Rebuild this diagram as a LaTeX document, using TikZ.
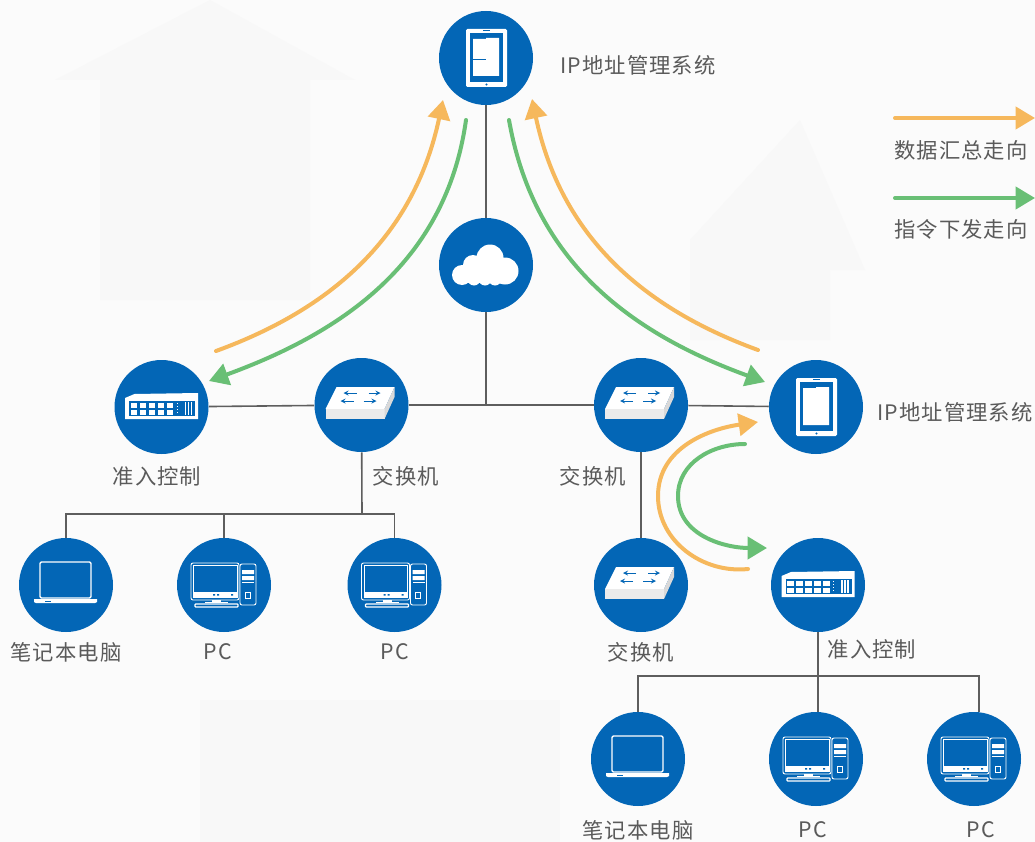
\documentclass[tikz,border=0pt]{standalone}
\usepackage{fontspec}
\setmainfont[LetterSpace=5]{Noto Sans CJK SC}
\usepackage{xcolor}
\usetikzlibrary{arrows.meta, positioning}
\definecolor{hubblue}{HTML}{0366B6}
\definecolor{linegray}{HTML}{5E5E5E}
\definecolor{datapath}{HTML}{F6B85C}
\definecolor{cmdpath}{HTML}{69BF75}
\definecolor{labelgray}{HTML}{5A5A5A}
\definecolor{backdrop}{HTML}{FBFBFB}
\definecolor{ghost}{HTML}{F8F8F8}
\tikzset{
    hub/.style={circle, fill=hubblue, minimum size=70.5pt, inner sep=0pt},
    label/.style={text=labelgray, font=\fontsize{16}{18}\selectfont, inner sep=0pt},
    link/.style={draw=linegray, line width=1.2pt},
    flow/.style={line width=3pt, line cap=round, -{Triangle[length=14.5pt, width=16.5pt]}},
    whiteout/.style={draw=white, line width=0.9pt, fill=hubblue},
    pics/tablet/.style={code={
        \fill[white, rounded corners=1pt] (-20,-29) rectangle (21,29);
        \fill[hubblue] (-16,-25) rectangle (17,24);
        \fill[white] (-13,-19) -- (0,-19) -- (0,-20) -- (13,-20) -- (13,18) -- (-13,18) -- cycle;
        \fill[hubblue] (0.5,26.5) circle (1.2);
        \fill[hubblue] (-3,-27.6) rectangle (4,-26.8);
    }},
    pics/screenrule/.style={code={
        \draw[hubblue, line width=0.6pt] (-13,1) -- (0,1);
    }},
    pics/cloud/.style={code={
        \fill[white] (-24,10) circle (10) (-13,0) circle (10) (4,-7) circle (13.5) (19,6) circle (13.5)
            (-12,14) circle (6.5) (-1,14) circle (6.5) (9,14) circle (6.5);
        \fill[white] (-24,4) rectangle (19,18);
    }},
    pics/switch/.style={code={
        \fill[white] (-25,-18) -- (33,-18) -- (23,4) -- (-36,4) -- cycle;
        \fill[white!92!black] (-36,4) rectangle (23,14);
        \fill[white!85!black] (33,-18) -- (33,-8) -- (23,14) -- (23,4) -- cycle;
        \draw[hubblue, line width=0.7pt, ->, >=stealth] (-5,-12) -- (-18,-12);
        \draw[hubblue, line width=0.7pt, ->, >=stealth] (7,-12) -- (19,-12);
        \draw[hubblue, line width=0.7pt, ->, >=stealth] (-8,-4) -- (-21,-4);
        \draw[hubblue, line width=0.7pt, ->, >=stealth] (2,-4) -- (15,-4);
    }},
    pics/gate/.style={code={
        \fill[white] (-36.5,-9) -- (-27,-13) -- (36.5,-14) -- (36.5,12) -- (-36.5,12) -- cycle;
        \fill[hubblue] (-32.5,-6) rectangle (33.5,9);
        \foreach \col in {0,...,4} {
            \fill[white] (-31+\col*9,-4) rectangle ++(6.5,5);
            \fill[white] (-31+\col*9,3) rectangle ++(6.5,5);
        }
        \foreach \row in {-4,-1,2,5} {
            \fill[white] (15,\row) rectangle ++(1.2,1.2);
        }
        \foreach \bar in {23,26,29} {
            \fill[white] (\bar,-5) rectangle ++(1.8,13);
        }
    }},
    pics/laptop/.style={code={
        \draw[whiteout, rounded corners=1pt, line width=1.1pt] (-26,-23) rectangle (25,13);
        \fill[white] (-32,14) -- (31,14) -- (31,17) -- (29,18) -- (-30,18) -- (-32,17) -- cycle;
        \fill[hubblue] (-21,15.5) rectangle (-15,16.3);
    }},
    pics/desktop/.style={code={
        \draw[whiteout, rounded corners=1.5pt, line width=0.7pt] (-33,-22) rectangle (15,15);
        \draw[whiteout, line width=0.7pt] (-30.5,-19.5) rectangle (13,7);
        \fill[white] (-31,7) rectangle (13.5,13);
        \fill[hubblue] (-11,9) rectangle (-9,10.5) (-7,9) rectangle (-5,10.5) (7,9) rectangle (9,10.5);
        \fill[white] (-12,15) rectangle (-3,17);
        \fill[white] (-19,16.5) rectangle (4,18);
        \draw[white, line width=0.9pt, rounded corners=0.5pt] (-29,19) rectangle (14,22);
        \draw[whiteout, rounded corners=1.5pt, line width=0.7pt] (16,-21) rectangle (32,20);
        \fill[white] (18,-15) rectangle (30,-11) (18,-9) rectangle (30,-5);
        \fill[white] (18,-3) rectangle (30,-2);
        \draw[white, line width=0.6pt] (21,7) rectangle (26,13);
    }}
}
\begin{document}
\begin{tikzpicture}[x=0.75pt, y=-0.75pt]
    \useasboundingbox (0,0) rectangle (1035,842);
    \fill[backdrop] (0,0) rectangle (1035,842);
    \fill[ghost] (55,80) -- (210,0) -- (355,80) -- (310,80) -- (310,300) -- (100,300) -- (100,80) -- cycle;
    \fill[ghost] (690,240) -- (800,120) -- (865,270) -- (830,270) -- (830,340) -- (690,340) -- cycle;
    \fill[ghost] (200,700) rectangle (560,842);

    % hubs
    \node[hub] (mgr) at (486,58) {};
    \node[hub] (wan) at (486,265) {};
    \node[hub] (gate) at (161.5,407) {};
    \node[hub] (swa) at (361.5,405) {};
    \node[hub] (swb) at (641,405) {};
    \node[hub] (mgrb) at (816,407) {};
    \node[hub] (lapa) at (66,585) {};
    \node[hub] (pca) at (224,585) {};
    \node[hub] (pcb) at (394.5,585) {};
    \node[hub] (swc) at (641,585) {};
    \node[hub] (gateb) at (818,585) {};
    \node[hub] (lapb) at (638,759) {};
    \node[hub] (pcc) at (816,759) {};
    \node[hub] (pcd) at (974,759) {};

    % icons
    \pic at (mgr) {tablet};
    \pic at (mgr) {screenrule};
    \pic at (wan) {cloud};
    \pic at (gate) {gate};
    \pic at (swa) {switch};
    \pic at (swb) {switch};
    \pic at (mgrb) {tablet};
    \pic at (lapa) {laptop};
    \pic at (pca) {desktop};
    \pic at (pcb) {desktop};
    \pic at (swc) {switch};
    \pic at (gateb) {gate};
    \pic at (lapb) {laptop};
    \pic at (pcc) {desktop};
    \pic at (pcd) {desktop};

    % labels
    \node[label] (mgrtext) at (638,65) {IP地址管理系统};
    \node[label] (mgrbtext) at (955,412) {IP地址管理系统};
    \node[label] (gatetext) at (157,476) {准入控制};
    \node[label] (swatext) at (406,476) {交换机};
    \node[label] (swbtext) at (593,476) {交换机};
    \node[label] (lapatext) at (66,652) {笔记本电脑};
    \node[label] (pcatext) at (218,652) {PC};
    \node[label] (pcbtext) at (395,652) {PC};
    \node[label] (swctext) at (641,652) {交换机};
    \node[label] (gatebtext) at (872,649) {准入控制};
    \node[label] (lapbtext) at (638,830) {笔记本电脑};
    \node[label] (pcctext) at (813,830) {PC};
    \node[label] (pcdtext) at (981,830) {PC};
    \node[label] (datatext) at (961,150) {数据汇总走向};
    \node[label] (cmdtext) at (961,229) {指令下发走向};

    % wiring
    \coordinate (tee) at (486,406);
    \coordinate (busa) at (362,514);
    \coordinate (busb) at (818,676);
    \coordinate (busbr) at (979,676);
    \draw[link] (mgr) -- (wan);
    \draw[link] (wan) -- (tee);
    \draw[link] (gate) -- (swa);
    \draw[link] (swa) -- (swb);
    \draw[link] (swb) -- (mgrb);
    \draw[link] (swa) -- (busa);
    \draw[link] (lapa) |- (busa);
    \draw[link] (pca) |- (busa);
    \draw[link] (pcb) |- (busa);
    \draw[link] (swb) -- (swc);
    \draw[link] (gateb) -- (busb);
    \draw[link] (lapb) |- (busb);
    \draw[link] (busb) -- (busb |- pcc.north);
    \draw[link] (busb) -- (busbr) -- (busbr |- pcd.north);

    % flows
    \coordinate (leftfoot) at (216,351);
    \coordinate (lefttip) at (443,100);
    \coordinate (leftstart) at (466,120);
    \coordinate (leftend) at (209,381);
    \coordinate (rightstart) at (509,120);
    \coordinate (rightend) at (765,382);
    \coordinate (rightfoot) at (758,350);
    \coordinate (righttip) at (532,99);
    \coordinate (bowfoot) at (748,569);
    \coordinate (bowmid) at (658,496);
    \coordinate (bowtip) at (758,422);
    \coordinate (arcstart) at (745,444);
    \coordinate (arcmid) at (678,496);
    \coordinate (arcend) at (767,548);
    \draw[flow, datapath] (leftfoot) to[out=20, in=-102] (lefttip);
    \draw[flow, cmdpath] (leftstart) to[out=-98, in=20] (leftend);
    \draw[flow, cmdpath] (rightstart) to[out=-80, in=160] (rightend);
    \draw[flow, datapath] (rightfoot) to[out=160, in=-78] (righttip);
    \draw[flow, datapath] (bowfoot) to[out=186, in=-90] (bowmid) to[out=90, in=188] (bowtip);
    \draw[flow, cmdpath] (arcstart) to[out=180, in=90] (arcmid) to[out=-90, in=180] (arcend);

    % legend
    \coordinate (dataleft) at (895,118);
    \coordinate (dataright) at (1035,118);
    \coordinate (cmdleft) at (895,198);
    \coordinate (cmdright) at (1035,198);
    \draw[flow, datapath] (dataleft) -- (dataright);
    \draw[flow, cmdpath] (cmdleft) -- (cmdright);
\end{tikzpicture}
\end{document}
